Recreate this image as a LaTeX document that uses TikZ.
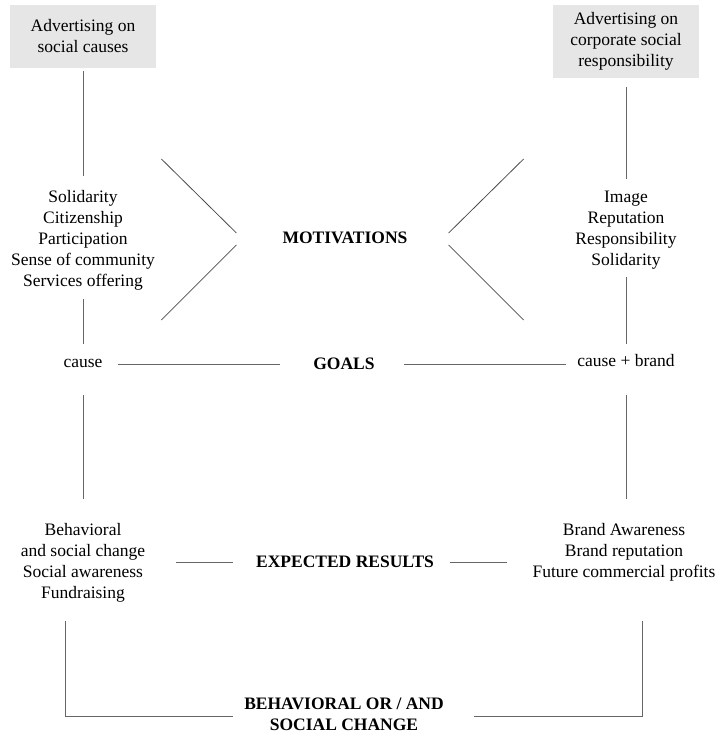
\documentclass[tikz,border=0pt]{standalone}
\usepackage{fontspec}
\setmainfont{Liberation Serif}
\definecolor{boxgrey}{HTML}{E6E6E6}
\definecolor{linegrey}{HTML}{666666}
\newcommand{\diagfont}{\fontsize{17.5}{21}\selectfont}
\tikzset{
    adbox/.style={fill=boxgrey, align=center, minimum width=146pt, inner sep=0pt, font=\diagfont},
    item/.style={align=center, inner sep=0pt, font=\diagfont},
    head/.style={align=center, inner sep=0pt, font=\diagfont\bfseries},
    link/.style={draw=linegrey, line width=1pt},
    chev/.style={draw=black!70, line width=0.8pt},
}
\begin{document}
\begin{tikzpicture}[x=1pt, y=-1pt]
    \useasboundingbox (0, 0) rectangle (719, 734);
        \node[adbox, minimum height=63pt] (adsoc) at (83, 36.5) {Advertising on\\social causes};
        \node[adbox, minimum height=73pt] (adcsr) at (626, 41.5) {Advertising on\\corporate social\\responsibility};
        \node[item] (motsoc) at (83, 240.4) {Solidarity\\Citizenship\\Participation\\Sense of community\\Services offering};
        \node[item] (motcsr) at (626, 230.1) {Image\\Reputation\\Responsibility\\Solidarity};
        \node[head] (motiv) at (345, 238) {MOTIVATIONS};
        \node[item] (goalsoc) at (83, 363) {cause};
        \node[head] (goals) at (344, 364) {GOALS};
        \node[item] (goalcsr) at (626, 361) {cause + brand};
        \node[item] (ressoc) at (83, 562.9) {Behavioral\\and social change\\Social awareness\\Fundraising};
        \node[head] (expres) at (345, 562) {EXPECTED RESULTS};
        \node[item] (rescsr) at (624, 552.4) {Brand Awareness\\Brand reputation\\Future commercial profits};
        \node[head] (change) at (344, 714.5) {BEHAVIORAL OR / AND\\SOCIAL CHANGE};
        % columns
        \draw[link, shorten <=3pt, shorten >=14.5pt] (adsoc) -- (motsoc);
        \draw[link, shorten <=8.7pt, shorten >=14.9pt] (motsoc) -- (goalsoc);
        \draw[link, shorten <=28pt, shorten >=24.5pt] (goalsoc) -- (ressoc);
        \draw[link, shorten <=9pt, shorten >=12pt] (adcsr) -- (motcsr);
        \draw[link, shorten <=7.7pt, shorten >=11pt] (motcsr) -- (goalcsr);
        \draw[link, shorten <=28pt, shorten >=24.5pt] (goalcsr.south) -- (goalcsr.south |- rescsr.north);
        % rows
        \draw[link, shorten <=15.6pt, shorten >=33.4pt] (goals.west -| goalsoc.east) -- (goals.west);
        \draw[link, shorten <=28.7pt, shorten >=11.3pt] (goals.east) -- (goals.east -| goalcsr.west);
        \draw[link, shorten <=30.8pt, shorten >=23.3pt] (expres.west -| ressoc.east) -- (expres.west);
        \draw[link, shorten <=16.3pt, shorten >=25.6pt] (expres.east) -- (expres.east -| rescsr.west);
        \draw[chev] ([xshift=-46pt, yshift=5pt]motiv.west) -- ++(-75, -74);
        \draw[chev] ([xshift=-46pt, yshift=-7pt]motiv.west) -- ++(-75, 75);
        \draw[chev] ([xshift=41pt, yshift=5pt]motiv.east) -- ++(75, -74);
        \draw[chev] ([xshift=41pt, yshift=-7pt]motiv.east) -- ++(75, 75);
        % bottom bracket
        \draw[link] ([xshift=-18pt, yshift=-18.7pt]ressoc.south) |- ([xshift=-11pt, yshift=-1.5pt]change.west);
        \draw[link] ([xshift=18pt, yshift=-39.7pt]rescsr.south) |- ([xshift=30pt, yshift=-1.5pt]change.east);
    \end{tikzpicture}
\end{document}
